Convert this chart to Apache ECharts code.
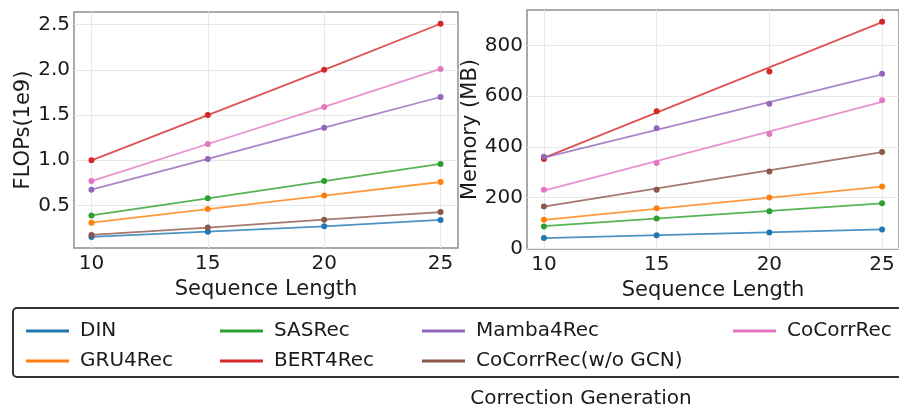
<!DOCTYPE html>
<html>
<head>
<meta charset="utf-8">
<script src="https://cdn.jsdelivr.net/npm/echarts@6/dist/echarts.min.js"></script>
<style>
  html, body { margin: 0; padding: 0; background: #fff; }
  #chart { width: 899px; height: 405px; }
</style>
</head>
<body>
<div id="chart"></div>
<script>
var seqLen = [10, 15, 20, 25];
var methods = ['DIN', 'GRU4Rec', 'SASRec', 'BERT4Rec', 'Mamba4Rec', 'CoCorrRec(w/o GCN)', 'CoCorrRec'];
var colors = ['#1f77b4', '#ff7f0e', '#2ca02c', '#d62728', '#9467bd', '#8c564b', '#e377c2'];

// FLOPs (1e9), left panel
var flopsDIN = [0.153, 0.21, 0.27, 0.34];
var flopsGRU4Rec = [0.31, 0.46, 0.61, 0.76];
var flopsSASRec = [0.39, 0.58, 0.77, 0.96];
var flopsBERT4Rec = [1.0, 1.5, 2.0, 2.51];
var flopsMamba4Rec = [0.675, 1.015, 1.36, 1.70];
var flopsNoGCN = [0.175, 0.256, 0.343, 0.427];
var flopsCoCorrRec = [0.77, 1.18, 1.59, 2.01];

// Memory (MB), right panel: measured points
var memDIN = [41, 52, 63, 75];
var memGRU4Rec = [113, 159, 201, 244];
var memSASRec = [87, 118, 147, 178];
var memBERT4Rec = [353, 541, 698, 894];
var memMamba4Rec = [362, 474, 570, 689];
var memNoGCN = [166, 232, 303, 380];
var memCoCorrRec = [232, 337, 451, 584];

// Memory fit lines, value at seq 10 and 25
var fitX = [10, 25];
var memFitDIN = [41, 75];
var memFitGRU4Rec = [113, 244];
var memFitSASRec = [88, 178];
var memFitBERT4Rec = [357, 892];
var memFitMamba4Rec = [358, 686];
var memFitNoGCN = [165, 380];
var memFitCoCorrRec = [228, 578];

var yTicksFlops = [0.5, 1.0, 1.5, 2.0, 2.5];
var yTicksMem = [0, 200, 400, 600, 800];

var flops = [flopsDIN, flopsGRU4Rec, flopsSASRec, flopsBERT4Rec, flopsMamba4Rec, flopsNoGCN, flopsCoCorrRec];
var mem = [memDIN, memGRU4Rec, memSASRec, memBERT4Rec, memMamba4Rec, memNoGCN, memCoCorrRec];
var memFit = [memFitDIN, memFitGRU4Rec, memFitSASRec, memFitBERT4Rec, memFitMamba4Rec, memFitNoGCN, memFitCoCorrRec];

var font = 'DejaVu Sans';

function pairs(xs, ys) {
	return xs.map(function(x, i) { return [x, ys[i]]; });
}

function xAxis(idx) {
	return {
		type: 'value', gridIndex: idx, min: 9.25, max: 25.75,
		name: 'Sequence Length', nameLocation: 'middle', nameGap: 27,
		nameTextStyle: { fontFamily: font, fontSize: 21, color: '#1a1a1a' },
		axisLine: { show: false },
		axisTick: { show: false, customValues: seqLen },
		axisLabel: { customValues: seqLen, fontFamily: font, fontSize: 20, color: '#1a1a1a', margin: 6 },
		splitLine: { show: true, lineStyle: { color: '#e8e8e8', width: 1 } }
	};
}

function yAxis(idx, name, min, max, ticks, gap, fmt) {
	return {
		type: 'value', gridIndex: idx, min: min, max: max,
		name: name, nameLocation: 'middle', nameGap: gap,
		nameTextStyle: { fontFamily: font, fontSize: 21, color: '#1a1a1a' },
		axisLine: { show: false },
		axisTick: { show: false, customValues: ticks },
		axisLabel: { customValues: ticks, formatter: fmt, fontFamily: font, fontSize: 20, color: '#1a1a1a', margin: 4 },
		splitLine: { show: true, lineStyle: { color: '#e8e8e8', width: 1 } }
	};
}

var series = [];
methods.forEach(function(m, i) {
	series.push({
		name: m, type: 'line', xAxisIndex: 0, yAxisIndex: 0,
		data: pairs(seqLen, flops[i]),
		symbol: 'circle', symbolSize: 6, z: 2 + i,
		itemStyle: { color: colors[i] },
		lineStyle: { color: colors[i], width: 1.8, opacity: 0.8 }
	});
	series.push({
		name: m, type: 'line', xAxisIndex: 1, yAxisIndex: 1,
		data: pairs(fitX, memFit[i]),
		symbol: 'none', z: 2 + i,
		itemStyle: { color: colors[i] },
		lineStyle: { color: colors[i], width: 1.8, opacity: 0.8 }
	});
	series.push({
		name: m, type: 'scatter', xAxisIndex: 1, yAxisIndex: 1,
		data: pairs(seqLen, mem[i]),
		symbol: 'circle', symbolSize: 6, z: 3 + i,
		itemStyle: { color: colors[i], opacity: 1 }
	});
});

var columns = [[0, 1], [2, 3], [4, 5], [6]];
var colLeft = [21, 215, 417, 728];
var legends = columns.map(function(col, c) {
	return {
		orient: 'vertical', left: colLeft[c], top: 316,
		itemWidth: 43, itemHeight: 3, itemGap: 10, icon: 'rect',
		selectedMode: false,
		data: col.map(function(k) { return methods[k]; }),
		textStyle: { fontFamily: font, fontSize: 20, color: '#1a1a1a', lineHeight: 20, padding: [0, 0, 0, 6] }
	};
});

var chart = echarts.init(document.getElementById('chart'), null, { renderer: 'canvas' });
chart.setOption({
	animation: false,
	backgroundColor: '#fff',
	title: {
		text: 'Correction Generation', left: 576, top: 384, textAlign: 'center',
		textStyle: { fontFamily: font, fontSize: 20, fontWeight: 'normal', color: '#1a1a1a' }
	},
	grid: [
		{ left: 74, right: 441, top: 12, bottom: 157, show: true, borderColor: '#8f8f8f', borderWidth: 1.5 },
		{ left: 527, right: -1, top: 10, bottom: 156, show: true, borderColor: '#8f8f8f', borderWidth: 1.5 }
	],
	xAxis: [xAxis(0), xAxis(1)],
	yAxis: [
		yAxis(0, 'FLOPs(1e9)', 0.03, 2.64, yTicksFlops, 36, function(v) { return v.toFixed(1); }),
		yAxis(1, 'Memory (MB)', -2, 940, yTicksMem, 40)
	],
	legend: legends,
	graphic: [{
		type: 'rect', shape: { x: 13, y: 308, width: 900, height: 69, r: 4 },
		style: { fill: 'none', stroke: '#333', lineWidth: 2 }, z: 100
	}],
	series: series
});
</script>
</body>
</html>
